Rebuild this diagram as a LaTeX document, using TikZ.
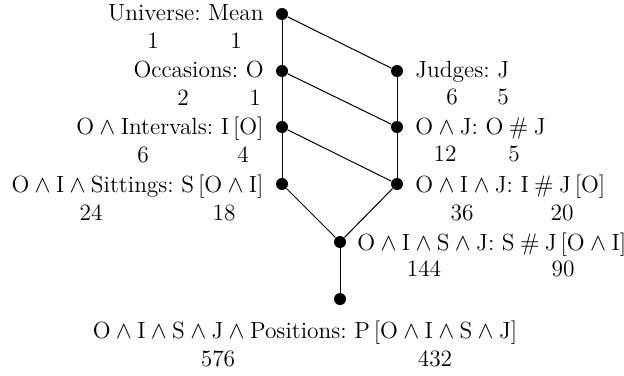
\documentclass[tikz,border=0pt]{standalone}
\begin{document}
\frenchspacing
\begin{tikzpicture}[x=0.5pt,y=-0.5pt,
  every node/.style={font=\fontsize{11.7pt}{14pt}\selectfont},
  dot/.style={circle,fill=black,inner sep=0pt,minimum size=6pt},
  lab/.style={inner sep=0pt},
  num/.style={inner sep=0pt,anchor=base},
  edge/.style={line width=0.5pt}]
\useasboundingbox (0,0) rectangle (624,375);
\newcommand{\wg}{${}\wedge{}$}
\newcommand{\hs}{${}\mathbin{\#}{}$}
% dots
\node[dot] (U) at (282,14) {};
\node[dot] (O) at (282,71) {};
\node[dot] (I) at (282,127) {};
\node[dot] (S) at (282,184) {};
\node[dot] (J) at (397,71) {};
\node[dot] (OJ) at (397,127) {};
\node[dot] (OIJ) at (397,184) {};
\node[dot] (OISJ) at (340,242) {};
\node[dot] (P) at (340,299) {};
% edges
\draw[edge] (U) -- (O) -- (I) -- (S);
\draw[edge] (J) -- (OJ) -- (OIJ);
\draw[edge] (U) -- (J);
\draw[edge] (O) -- (OJ);
\draw[edge] (I) -- (OIJ);
\draw[edge] (S) -- (OISJ);
\draw[edge] (OIJ) -- (OISJ);
\draw[edge] (OISJ) -- (P);
% labels left
\node[lab,anchor=base east] (Ul) at (264,20) {Universe: Mean};
\node[num] (Ua) at (153,48) {1};
\node[num] (Ub) at (236,48) {1};
\node[lab,anchor=base east] (Ol) at (264,77) {Occasions: O};
\node[num] (Oa) at (183,105) {2};
\node[num] (Ob) at (255,105) {1};
\node[lab,anchor=base east] (Il) at (264,134) {O\wg Intervals: I\,[O]};
\node[num] (Ia) at (143,162) {6};
\node[num] (Ib) at (243,162) {4};
\node[lab,anchor=base east] (Sl) at (264,192) {O\wg I\wg Sittings: S\,[O\wg I]};
\node[num] (Sa) at (91,220) {24};
\node[num] (Sb) at (224,220) {18};
% labels right
\node[lab,anchor=base west] (Jl) at (415,77) {Judges: J};
\node[num] (Ja) at (452,104) {6};
\node[num] (Jb) at (503,104) {5};
\node[lab,anchor=base west] (OJl) at (415,134) {O\wg J: O\hs J};
\node[num] (OJa) at (445,161) {12};
\node[num] (OJb) at (514,161) {5};
\node[lab,anchor=base west] (OIJl) at (415,192) {O\wg I\wg J: I\hs J\,[O]};
\node[num] (OIJa) at (462,220) {36};
\node[num] (OIJb) at (562,220) {20};
\node[lab,anchor=base west] (OISJl) at (357,250) {O\wg I\wg S\wg J: S\hs J\,[O\wg I]};
\node[num] (OISJa) at (424,276) {144};
\node[num] (OISJb) at (563,276) {90};
% bottom
\node[lab,anchor=base] (Pl) at (305,338) {O\wg I\wg S\wg J\wg Positions: P\,[O\wg I\wg S\wg J]};
\node[num] (Pa) at (218,366) {576};
\node[num] (Pb) at (435,366) {432};
\end{tikzpicture}
\end{document}
